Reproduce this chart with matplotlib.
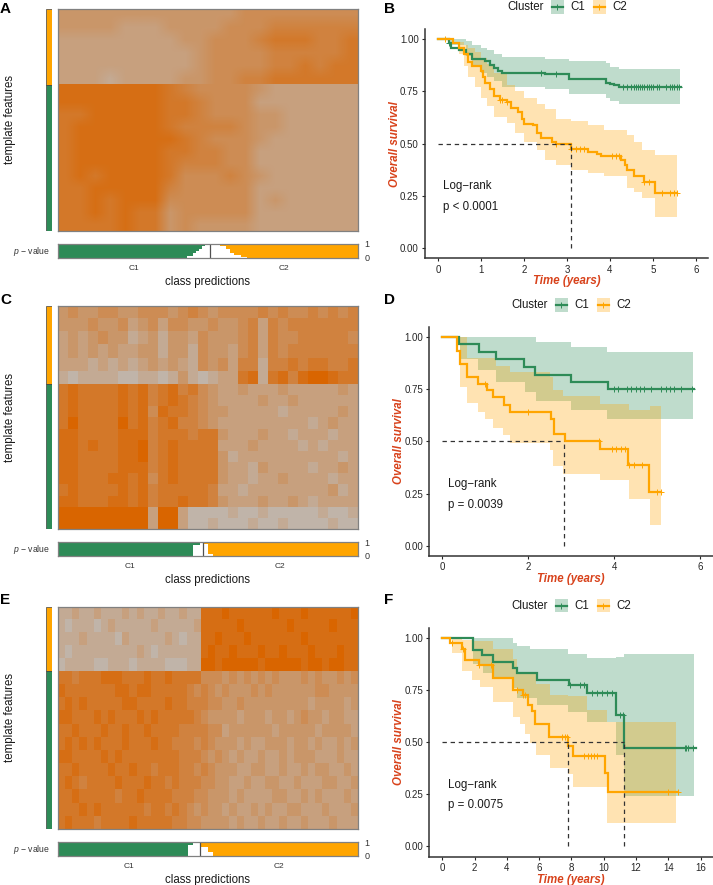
import numpy as np
import matplotlib
matplotlib.use("Agg")
import matplotlib.pyplot as plt
from matplotlib.colors import LinearSegmentedColormap
from matplotlib.patches import Rectangle

plt.rcParams["font.family"] = ["Liberation Sans", "DejaVu Sans"]
plt.rcParams["mathtext.fontset"] = "custom"
plt.rcParams["mathtext.it"] = "Liberation Sans:italic"
plt.rcParams["mathtext.rm"] = "Liberation Sans"

GREEN = "#2E8B57"
ORANGE = "#FFA500"
RED = "#D8421B"
W, H = 713, 885

# Heatmap tones read by eye, block averages: 0 = grey, 9 = full orange
a_top = ["44444 44444 44555 55555", "44443 33444 45556 66666", "33333 33344 55567 77667",
         "33333 33334 55556 66667", "33333 33334 55556 67677", "33323 33344 55667 77777"]
a_bottom = ["88888 88765 55543 33333", "88888 88776 55533 33333", "77888 88776 55544 33333",
            "78888 88766 66544 33333", "78888 88876 55543 33333", "78888 88776 65533 33333",
            "78888 88766 65533 33333", "78788 88755 56543 33333", "77888 88655 55533 33333",
            "77878 88555 55534 33333", "77878 77455 55533 33333", "77778 77454 44433 33333"]
c_top = ["45445 54455 54565 45555 65655 65656",
         "44454 45345 35544 54456 36566 66666",
         "34345 44234 24435 44456 36556 66665",
         "34343 43344 24425 44356 36566 66666",
         "33323 23234 34325 45366 26676 77667",
         "21222 21122 12421 23378 27868 99877"]
c_bottom = ["78777 78786 78675 43343 33433 33343",
            "78777 78786 78765 43333 43343 33333",
            "78777 78785 87765 44333 33233 33343",
            "79777 79786 78665 43333 33333 23433",
            "88777 78886 77767 74333 43323 33233",
            "88787 78896 78777 73334 33332 32333",
            "88777 78896 78777 74233 33333 33323",
            "88777 78886 78777 74332 43333 23343",
            "88777 88785 78777 74332 33433 33233",
            "78777 78786 77777 63323 33333 33423",
            "88777 88786 77877 64333 43343 23333",
            "99999 99993 99311 11211 21111 12112",
            "99999 99993 99311 21112 11211 11211"]
e_top = ["22322 32223 23223 22322 88898 88888 98889 88888 89",
         "21222 12322 22232 22223 88888 98888 88988 88898 88",
         "22232 22213 22222 32122 88988 89888 88889 88888 88",
         "21222 22222 23212 22222 89889 88898 89888 98889 88",
         "12222 11222 12222 11122 99899 99989 99998 99899 88"]
e_bottom = ["77677 78887 77877 87777 55545 45454 54445 45445 45",
            "87777 77788 78877 77765 65454 44545 44444 45544 44",
            "78787 77778 87777 87766 65544 54444 44444 34444 34",
            "88777 87877 78787 77776 54444 34443 44345 44344 33",
            "77877 78778 77877 77666 65534 44444 34444 43444 43",
            "78787 87778 77787 76665 65444 34334 44344 34334 34",
            "88777 78787 77777 77666 54543 43343 34344 43334 33",
            "77877 77877 87767 77665 65444 33443 34334 34433 43",
            "78767 77787 77877 67666 55443 34334 43343 33443 34",
            "77877 77767 78777 76665 54443 43333 44334 34333 43",
            "77787 87777 77677 67654 54434 33434 33443 33433 34",
            "78777 67777 87777 76655 44443 43343 34334 33343 33"]

# Number of features per template class (top block, bottom block)
a_features = [229, 438]
c_features = [235, 434]
e_features = [193, 474]

# Share of samples (%) predicted C1 / C2
a_samples = [50.7, 49.3]
c_samples = [48.6, 51.4]
e_samples = [47.6, 52.4]

# p-value bars: sample position (%) and lower edge of the bar (hangs from 1)
a_c1_x = [0, 43, 45, 46, 47, 48, 49]
a_c1_low = [0, 0.1, 0.3, 0.45, 0.6, 0.8, 1]
a_c2_x = [52.5, 53, 54, 56, 57.5, 58.7, 61, 63, 100]
a_c2_low = [1, 0.95, 0.8, 0.6, 0.35, 0.2, 0.05, 0, 0]
c_c1_x = [0, 45.1, 47.6, 48.6]
c_c1_low = [0, 0.8, 0.9, 0.9]
c_c2_x = [48.9, 50.3, 51.8, 100]
c_c2_low = [0.85, 0.12, 0, 0]
e_c1_x = [0, 43.4, 45.1, 47.6]
e_c1_low = [0, 0.8, 0.95, 0.95]
e_c2_x = [47.9, 50.3, 51.7, 100]
e_c2_low = [0.65, 0.3, 0, 0]

# Panel B survival curves
b_c1_t = [0, 0.25, 0.3, 0.5, 0.65, 0.8, 1.1, 1.2, 1.3, 1.4, 1.5, 2.5, 3.05, 3.9, 4.0, 4.1, 4.2, 5.65]
b_c1_s = [1, 0.98, 0.96, 0.95, 0.93, 0.905, 0.895, 0.875, 0.86, 0.85, 0.84, 0.835, 0.81, 0.79, 0.785, 0.78, 0.77, 0.77]
b_c1_band_t = [0.25, 0.65, 0.8, 1.0, 1.15, 1.3, 1.5, 2.5, 3.05, 3.9, 4.0, 4.2, 5.63]
b_c1_up = [1, 0.99, 0.97, 0.96, 0.95, 0.93, 0.915, 0.905, 0.896, 0.885, 0.869, 0.858, 0.858]
b_c1_lo = [0.97, 0.92, 0.87, 0.84, 0.82, 0.80, 0.773, 0.76, 0.736, 0.717, 0.704, 0.688, 0.688]
b_c1_cens = [0.25, 2.4, 2.75, 4.3, 4.4, 4.5, 4.55, 4.6, 4.65, 4.7, 4.75, 4.8, 4.85, 4.9, 4.95, 5.0, 5.1, 5.15, 5.3, 5.4, 5.45, 5.5, 5.55, 5.6]
b_c2_t = [0, 0.35, 0.5, 0.6, 0.7, 0.8, 1.0, 1.05, 1.1, 1.2, 1.3, 1.45, 1.6, 1.7, 1.85, 1.95, 2.0, 2.2, 2.3, 2.4, 2.65, 2.75, 3.1, 3.5, 3.7, 3.8, 4.25, 4.35, 4.4, 4.55, 4.8, 5.05, 5.55]
b_c2_s = [1, 0.98, 0.96, 0.93, 0.89, 0.87, 0.85, 0.82, 0.79, 0.76, 0.73, 0.71, 0.70, 0.67, 0.65, 0.62, 0.595, 0.59, 0.55, 0.525, 0.51, 0.50, 0.475, 0.46, 0.45, 0.44, 0.42, 0.40, 0.375, 0.345, 0.315, 0.262, 0.262]
b_c2_band_t = [0.3, 0.5, 0.6, 0.7, 0.85, 1.0, 1.15, 1.3, 1.6, 1.8, 2.0, 2.3, 2.5, 2.75, 3.1, 3.5, 3.85, 4.4, 4.55, 4.75, 5.05, 5.55]
b_c2_up = [1, 0.985, 0.97, 0.96, 0.94, 0.91, 0.88, 0.84, 0.78, 0.75, 0.72, 0.69, 0.665, 0.62, 0.61, 0.59, 0.565, 0.54, 0.51, 0.47, 0.445, 0.445]
b_c2_lo = [1, 0.93, 0.87, 0.82, 0.77, 0.72, 0.68, 0.63, 0.60, 0.55, 0.51, 0.47, 0.42, 0.40, 0.375, 0.36, 0.345, 0.29, 0.27, 0.24, 0.15, 0.15]
b_c2_cens = [0.17, 1.45, 1.5, 1.6, 2.75, 3.1, 3.2, 3.3, 3.4, 4.05, 4.15, 4.2, 4.8, 4.9, 5.2, 5.4, 5.5, 5.55]
b_medians = [3.1]

# Panel D survival curves
d_c1_t = [0, 0.4, 0.85, 1.25, 1.9, 2.15, 3.0, 3.85, 5.85]
d_c1_s = [1, 0.965, 0.93, 0.895, 0.858, 0.82, 0.785, 0.75, 0.75]
d_c1_band_t = [0.41, 0.84, 1.25, 1.925, 2.18, 3.0, 3.83, 5.84]
d_c1_up = [1, 1, 1, 1, 0.974, 0.95, 0.926, 0.926]
d_c1_lo = [0.894, 0.84, 0.786, 0.737, 0.693, 0.65, 0.606, 0.606]
d_c1_cens = [4.0, 4.1, 4.3, 4.4, 4.5, 4.6, 4.7, 4.85, 5.1, 5.2, 5.3, 5.4, 5.55, 5.8]
d_c2_t = [0, 0.335, 0.42, 0.58, 0.83, 1.03, 1.18, 1.43, 1.58, 2.52, 2.6, 2.85, 3.67, 4.33, 4.82, 5.1]
d_c2_s = [1, 0.935, 0.87, 0.806, 0.775, 0.745, 0.71, 0.675, 0.64, 0.605, 0.535, 0.50, 0.463, 0.387, 0.258, 0.258]
d_c2_band_t = [0.41, 0.567, 0.84, 0.99, 1.19, 1.25, 1.405, 1.58, 2.51, 2.585, 2.82, 3.67, 4.35, 4.84, 5.08]
d_c2_up = [1, 0.897, 0.897, 0.897, 0.897, 0.86, 0.86, 0.834, 0.81, 0.745, 0.717, 0.678, 0.65, 0.67, 0.67]
d_c2_lo = [0.758, 0.685, 0.64, 0.605, 0.566, 0.566, 0.53, 0.49, 0.457, 0.382, 0.345, 0.313, 0.226, 0.10, 0.10]
d_c2_cens = [1.0, 2.0, 3.65, 3.95, 4.05, 4.15, 4.25, 4.35, 4.45, 4.65, 5.0, 5.08]
d_medians = [2.83]

# Panel F survival curves
f_c1_t = [0, 1.92, 2.48, 3.16, 4.4, 4.65, 5.84, 7.87, 8.94, 10.76, 11.25, 15.7]
f_c1_s = [1, 0.94, 0.917, 0.885, 0.858, 0.83, 0.798, 0.773, 0.736, 0.629, 0.472, 0.472]
f_c1_band_t = [1.92, 2.54, 3.16, 4.4, 4.65, 5.43, 5.84, 7.8, 8.94, 10.76, 11.25, 15.6]
f_c1_up = [1, 1, 1, 0.976, 0.96, 0.945, 0.945, 0.925, 0.905, 0.91, 0.925, 0.925]
f_c1_lo = [0.877, 0.83, 0.806, 0.758, 0.71, 0.71, 0.677, 0.645, 0.597, 0.437, 0.242, 0.242]
f_c1_cens = [7.9, 8.5, 8.8, 9.3, 9.6, 9.9, 10.2, 10.5, 11.0, 11.2, 15.0, 15.1, 15.2, 15.5]
f_c2_t = [0, 0.5, 1.2, 1.4, 2.3, 3.16, 4.4, 5.0, 5.33, 5.54, 5.74, 6.63, 7.76, 8.07, 10.07, 10.24, 14.6]
f_c2_s = [1, 0.975, 0.945, 0.895, 0.87, 0.806, 0.75, 0.727, 0.68, 0.648, 0.589, 0.525, 0.48, 0.435, 0.352, 0.26, 0.26]
f_c2_band_t = [0.58, 1.2, 1.82, 2.33, 3.16, 4.4, 4.65, 4.81, 5.12, 5.43, 5.8, 6.67, 7.8, 8.07, 8.94, 10.2, 14.5]
f_c2_up = [1, 0.99, 0.985, 0.985, 0.945, 0.90, 0.829, 0.829, 0.829, 0.829, 0.777, 0.725, 0.72, 0.72, 0.653, 0.595, 0.595]
f_c2_lo = [0.928, 0.84, 0.80, 0.765, 0.693, 0.62, 0.62, 0.585, 0.54, 0.494, 0.437, 0.374, 0.346, 0.285, 0.285, 0.112, 0.112]
f_c2_cens = [0.6, 1.3, 2.3, 3.0, 4.6, 5.0, 5.1, 7.4, 7.6, 7.7, 8.8, 9.0, 9.2, 9.4, 9.6, 14.0, 14.6]
f_medians = [7.8, 11.25]

tone_cmap = LinearSegmentedColormap.from_list("tone", ["#BEBEBE", "#D96500"])


def px_axes(fig, left, top, right, bottom):
    return fig.add_axes([left / W, 1 - bottom / H, (right - left) / W, (bottom - top) / H])


def tones(rows):
    return np.array([[int(c) for c in r.replace(" ", "")] for r in rows]) / 9


def heatmap(fig, top_rows, bottom_rows, features, left, top, right, bottom, interp="nearest"):
    ax = px_axes(fig, left, top, right, bottom)
    n = sum(features)
    ax.imshow(tones(top_rows), cmap=tone_cmap, vmin=0, vmax=1, aspect="auto",
              interpolation=interp, extent=(0, 1, features[0], 0))
    ax.imshow(tones(bottom_rows), cmap=tone_cmap, vmin=0, vmax=1, aspect="auto",
              interpolation=interp, extent=(0, 1, n, features[0]))
    ax.set_xlim(0, 1)
    ax.set_ylim(n, 0)
    ax.set_xticks([])
    ax.set_yticks([])
    for s in ax.spines.values():
        s.set_color("#808080")
        s.set_linewidth(0.9)

    # class bar next to the heatmap
    side = px_axes(fig, 45.5, top, 51.5, bottom)
    side.bar(0, features[0], bottom=0, width=1, color=ORANGE, edgecolor="#404040", linewidth=0.5)
    side.bar(0, features[1], bottom=features[0], width=1, color=GREEN, edgecolor="#404040", linewidth=0.5)
    side.set_xlim(-0.5, 0.5)
    side.set_ylim(n, 0)
    side.axis("off")


def pbar(fig, samples, c1_x, c1_low, c2_x, c2_low, left, top, right, bottom):
    ax = px_axes(fig, left, top, right, bottom)
    ax.fill_between(c1_x + [samples[0]], c1_low + [c1_low[-1]], 1, step="post", color=GREEN, linewidth=0)
    ax.fill_between(c2_x, c2_low, 1, step="post", color=ORANGE, linewidth=0)
    ax.axvline(samples[0], color="#505050", linewidth=0.9)
    ax.set_xlim(0, 100)
    ax.set_ylim(0, 1)
    ax.set_xticks([samples[0] / 2, samples[0] + samples[1] / 2], ["C1", "C2"], fontsize=6, color="#333333")
    ax.yaxis.tick_right()
    ax.set_yticks([0, 1], ["0", "1"], fontsize=6.5, color="#333333")
    ax.tick_params(axis="x", length=0, pad=5.5)
    ax.tick_params(axis="y", length=0, pad=5)
    ax.set_xlabel("class predictions", fontsize=8.3, labelpad=2.5, color="#1a1a1a")
    ax.text(-0.024, 0.45, r"$\mathit{p}$ − value", transform=ax.transAxes, ha="right", va="center",
            fontsize=6.2, color="#333333")
    for s in ax.spines.values():
        s.set_color("#808080")
        s.set_linewidth(0.9)


def km(fig, box, xticks, xlim, c1, c2, medians, ptext):
    ax = px_axes(fig, *box)
    for (t, s, bt, up, lo, cens), col in ((c1, GREEN), (c2, ORANGE)):
        ax.fill_between(bt, lo, up, step="post", color=col, alpha=0.3, linewidth=0)
        ax.step(t, s, where="post", color=col, linewidth=1.6, solid_joinstyle="miter")
        idx = np.searchsorted(t, cens, side="right") - 1
        ax.plot(cens, np.array(s)[idx], linestyle="none", marker="+", color=col,
                markersize=5, markeredgewidth=0.7)
    ax.plot([0, max(medians)], [0.5, 0.5], color="#333333", linestyle=(0, (3.5, 3)), linewidth=0.9)
    for m in medians:
        ax.plot([m, m], [0, 0.5], color="#333333", linestyle=(0, (3.5, 3)), linewidth=0.9)
    ax.text(xticks[-1] * 0.0205, 0.297, "Log−rank", fontsize=8.3, va="center", color="#1a1a1a")
    ax.text(xticks[-1] * 0.0205, 0.197, ptext, fontsize=8.3, va="center", color="#1a1a1a")
    ax.set_xlim(*xlim)
    ax.set_ylim(-0.049, 1.049)
    ax.set_xticks(xticks)
    ax.set_yticks([0, 0.25, 0.5, 0.75, 1], ["0.00", "0.25", "0.50", "0.75", "1.00"])
    ax.tick_params(labelsize=7, length=2.5, width=0.8, pad=2, colors="#262626")
    ax.spines[["top", "right"]].set_visible(False)
    ax.spines[["left", "bottom"]].set_linewidth(1.1)
    ax.spines[["left", "bottom"]].set_color("#333333")
    ax.set_xlabel("Time (years)", fontsize=8.3, fontweight="bold", fontstyle="italic", color=RED, labelpad=0.5)
    ax.set_ylabel("Overall survival", fontsize=8.3, fontweight="bold", fontstyle="italic", color=RED, labelpad=-0.5)


fig = plt.figure(figsize=(W / 100, H / 100), dpi=100)

heatmap(fig, a_top, a_bottom, a_features, 57.5, 8.5, 357.5, 231, interp="bilinear")
heatmap(fig, c_top, c_bottom, c_features, 57.5, 306, 357.5, 529)
heatmap(fig, e_top, e_bottom, e_features, 57.5, 606.7, 357.5, 829)

pbar(fig, a_samples, a_c1_x, a_c1_low, a_c2_x, a_c2_low, 57.5, 243.5, 357.5, 257.5)
pbar(fig, c_samples, c_c1_x, c_c1_low, c_c2_x, c_c2_low, 57.5, 542, 357.5, 555.5)
pbar(fig, e_samples, e_c1_x, e_c1_low, e_c2_x, e_c2_low, 57.5, 842.3, 357.5, 855.8)

km(fig, (425, 29, 708, 258.3), [0, 1, 2, 3, 4, 5, 6], (-0.302, 6.28),
   (b_c1_t, b_c1_s, b_c1_band_t, b_c1_up, b_c1_lo, b_c1_cens),
   (b_c2_t, b_c2_s, b_c2_band_t, b_c2_up, b_c2_lo, b_c2_cens), b_medians, "p < 0.0001")
km(fig, (429.3, 326.7, 713, 556), [0, 2, 4, 6], (-0.302, 6.30),
   (d_c1_t, d_c1_s, d_c1_band_t, d_c1_up, d_c1_lo, d_c1_cens),
   (d_c2_t, d_c2_s, d_c2_band_t, d_c2_up, d_c2_lo, d_c2_cens), d_medians, "p = 0.0039")
km(fig, (429.3, 627.7, 713, 856.7), [0, 2, 4, 6, 8, 10, 12, 14, 16], (-0.80, 16.76),
   (f_c1_t, f_c1_s, f_c1_band_t, f_c1_up, f_c1_lo, f_c1_cens),
   (f_c2_t, f_c2_s, f_c2_band_t, f_c2_up, f_c2_lo, f_c2_cens), f_medians, "p = 0.0075")

# overlay in pixel coordinates for panel letters, side titles and the legends
over = fig.add_axes([0, 0, 1, 1], facecolor="none")
over.set_xlim(0, W)
over.set_ylim(H, 0)
over.axis("off")

for letter, x, y in [("A", 0, 9), ("B", 384, 9), ("C", 0, 300), ("D", 384, 300), ("E", 0, 600), ("F", 384, 600)]:
    over.text(x, y, letter, fontsize=11, fontweight="bold", va="center", ha="left", color="black")

for y in (119.5, 417.5, 718):
    over.text(10, y, "template features", rotation=90, fontsize=8.3, va="center", ha="center", color="#1a1a1a")

for x0, yc in [(507, 7), (511, 305), (511, 605.7)]:
    over.text(x0, yc, "Cluster", fontsize=8.3, va="center", ha="left", color="#1a1a1a")
    for dx, col, name in [(43.5, GREEN, "C1"), (85.5, ORANGE, "C2")]:
        over.add_patch(Rectangle((x0 + dx, yc - 6.7), 13.4, 13.4, facecolor=col, alpha=0.3, linewidth=0))
        over.plot([x0 + dx + 1.5, x0 + dx + 12], [yc, yc], color=col, linewidth=1.6)
        over.plot([x0 + dx + 6.7], [yc], marker="+", color=col, markersize=5, markeredgewidth=0.7)
        over.text(x0 + dx + 19.5, yc, name, fontsize=8.3, va="center", ha="left", color="#1a1a1a")

fig.savefig("out.png", dpi=100)
